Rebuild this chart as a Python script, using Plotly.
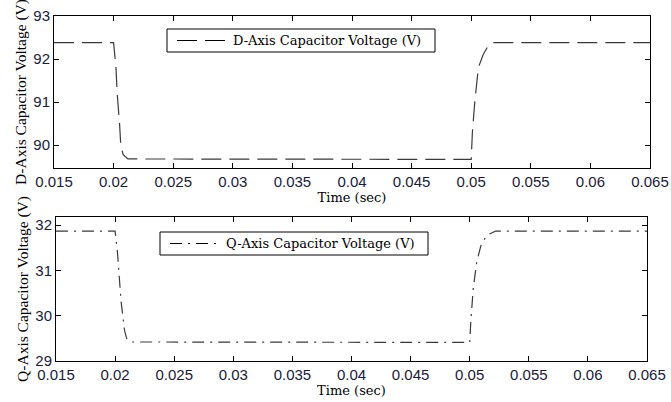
import plotly.graph_objects as go

# Time samples (sec) and read-off values
t_d = [0.015, 0.0200, 0.0202, 0.0203, 0.0205, 0.0206, 0.0208, 0.0212, 0.0500, 0.0501, 0.0503, 0.0506, 0.0510, 0.0514, 0.0518, 0.065]
v_d = [92.38, 92.38, 91.80, 91.20, 90.50, 90.00, 89.78, 89.68, 89.67, 90.30, 91.00, 91.80, 92.10, 92.30, 92.38, 92.38]

t_q = [0.015, 0.0200, 0.0202, 0.0205, 0.0208, 0.0210, 0.0215, 0.0500, 0.0501, 0.0503, 0.0506, 0.0510, 0.0515, 0.0522, 0.065]
v_q = [31.87, 31.87, 31.40, 30.33, 29.67, 29.48, 29.42, 29.41, 29.90, 30.60, 31.20, 31.60, 31.78, 31.87, 31.87]

x_ticks = [0.015, 0.02, 0.025, 0.03, 0.035, 0.04, 0.045, 0.05, 0.055, 0.06, 0.065]
x_tick_text = ["0.015", "0.02", "0.025", "0.03", "0.035", "0.04", "0.045", "0.05", "0.055", "0.06", "0.065"]
d_ticks = [90, 91, 92, 93]
q_ticks = [29, 30, 31, 32]

fig = go.Figure()
fig.add_trace(go.Scatter(x=t_d, y=v_d, mode="lines", name="D-Axis Capacitor Voltage (V)",
                         line=dict(color="#3a3a3a", width=1.2, dash="20px,8px"),
                         xaxis="x", yaxis="y", showlegend=False))
fig.add_trace(go.Scatter(x=t_q, y=v_q, mode="lines", name="Q-Axis Capacitor Voltage (V)",
                         line=dict(color="#3a3a3a", width=1.2, dash="12px,6px,2px,6px"),
                         xaxis="x2", yaxis="y2", showlegend=False))

axis_common = dict(showgrid=False, zeroline=False, ticks="inside", ticklen=5, tickcolor="black",
                   showline=True, linecolor="black", linewidth=1, mirror="ticks", automargin=False,
                   tickfont=dict(family="Liberation Sans, Arial", size=15, color="#1a1a3a"))
xtitle_font = dict(family="DejaVu Serif", size=13, color="black")
ytitle_font = dict(family="Liberation Serif, Times New Roman", size=15.5, color="black")

fig.update_layout(
    width=671, height=402, margin=dict(l=0, r=0, t=0, b=0),
    paper_bgcolor="white", plot_bgcolor="white",
    xaxis=dict(domain=[54/671, 650/671], range=[0.015, 0.065], anchor="y",
               tickvals=x_ticks, ticktext=x_tick_text,
               title=dict(text="Time (sec)", font=xtitle_font, standoff=0), **axis_common),
    yaxis=dict(domain=[(402-168)/402, (402-16)/402], range=[89.47, 93], anchor="x",
               tickvals=d_ticks,
               title=dict(text="D-Axis Capacitor Voltage (V)", font=ytitle_font, standoff=2), **axis_common),
    xaxis2=dict(domain=[56/671, 647/671], range=[0.015, 0.065], anchor="y2",
                tickvals=x_ticks, ticktext=x_tick_text,
                title=dict(text="Time (sec)", font=xtitle_font, standoff=0), **axis_common),
    yaxis2=dict(domain=[(402-361)/402, (402-217)/402], range=[29, 32.18], anchor="x2",
                tickvals=q_ticks,
                title=dict(text="Q-Axis Capacitor Voltage (V)", font=ytitle_font, standoff=2), **axis_common),
)

# Legend boxes (drawn as shapes + sample line + text)
legends = [
    dict(x0=167, x1=435, y0=29, y1=52, dash="20px,8px", label="D-Axis Capacitor Voltage (V)"),
    dict(x0=160, x1=428, y0=232, y1=255, dash="12px,6px,2px,6px", label="Q-Axis Capacitor Voltage (V)"),
]
for lg in legends:
    fig.add_shape(type="rect", xref="paper", yref="paper",
                  x0=lg["x0"]/671, x1=lg["x1"]/671, y0=1-lg["y1"]/402, y1=1-lg["y0"]/402,
                  line=dict(color="black", width=1), fillcolor="white")
    ym = 1 - (lg["y0"]+lg["y1"])/2/402
    fig.add_shape(type="line", xref="paper", yref="paper",
                  x0=(lg["x0"]+10)/671, x1=(lg["x0"]+62)/671, y0=ym, y1=ym,
                  line=dict(color="black", width=1.2, dash=lg["dash"]))
    fig.add_annotation(xref="paper", yref="paper", x=(lg["x0"]+64)/671, y=ym,
                       xanchor="left", yanchor="middle", showarrow=False,
                       text=lg["label"], font=dict(family="DejaVu Serif", size=13, color="black"))

fig.write_html("out.html")
